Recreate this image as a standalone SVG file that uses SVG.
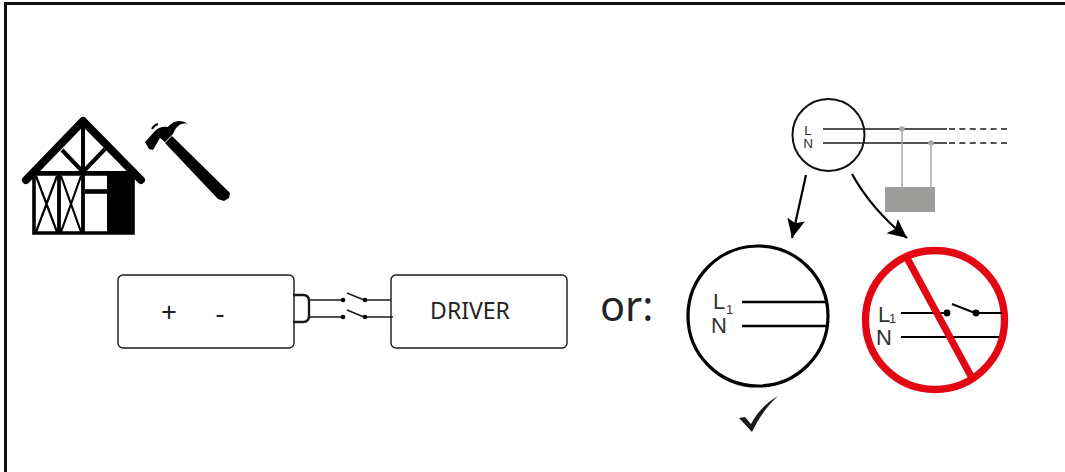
<svg xmlns="http://www.w3.org/2000/svg" width="1065" height="472" viewBox="0 0 1065 472">
<style>
.t{font-family:"Noto Sans","Open Sans",sans-serif;fill:#222}
.a{font-family:"Liberation Sans",Arial,sans-serif;fill:#333}
.box{fill:#fff;stroke:#1a1a1a;stroke-width:1.4}
.w{fill:none;stroke:#1a1a1a;stroke-width:1.6}
.k{fill:none;stroke:#000;stroke-width:2.4}
.g{fill:none;stroke:#a8a8a8;stroke-width:1.5}
</style>
<defs>
<marker id="ah" markerUnits="userSpaceOnUse" markerWidth="22" markerHeight="20" refX="19" refY="9" orient="auto"><path d="M0,0 L19,9 L0,18 L4,9 Z" fill="#000"/></marker>
</defs>
<rect width="1065" height="472" fill="#fff"/>
<path d="M5.5,472 V3.5 H1065" fill="none" stroke="#111" stroke-width="3"/>

<g id="house">
<path d="M34,174 H133 V233 H34 Z" fill="#fff" stroke="#000" stroke-width="3.600"/>
<path d="M26,180 L83,121 L141,180" fill="none" stroke="#000" stroke-width="8" stroke-linecap="round" stroke-linejoin="round"/>
<path d="M83,121 V173 M62,150 L83,172 L105,149 M38,173 H128" fill="none" stroke="#000" stroke-width="4"/>
<rect x="107" y="173" width="26" height="60" fill="#000"/>
<path d="M59,174 V233 M83,174 V233" fill="none" stroke="#000" stroke-width="3.800"/>
<path d="M85,191.500 H107" fill="none" stroke="#000" stroke-width="4.600"/>
<path d="M36,176 L57,232 M57,176 L36,232 M61,176 L81,232 M81,176 L61,232" fill="none" stroke="#000" stroke-width="2.200"/>
</g>
<g id="hammer">
<path d="M172,136 L230,193 L229,198 L224,201 L218,199 L165,143 Z" fill="#000"/>
<path d="M145,142 L155,131 Q160,126 168,127 C172,122 180,118 188,124 C180,122 176,127 173,134 L165,142 L160,138 L153,150 L149,149 Z" fill="#000"/>
<path d="M152,129 Q154,125 158,124" fill="none" stroke="#000" stroke-width="2"/>
</g>

<g id="lamp">
<rect x="118" y="275" width="176" height="73" rx="5" class="box"/>
<text x="169" y="322" class="t" font-size="28" text-anchor="middle">+</text>
<text x="220" y="323" class="t" font-size="28" text-anchor="middle">-</text>
</g>
<g id="driver">
<rect x="391" y="275" width="176" height="73" rx="5" class="box"/>
<text x="470" y="319" class="t" font-size="23" text-anchor="middle">DRIVER</text>
</g>
<g id="connectors">
<path d="M293,295 H303 Q309,295 309,301 V316 Q309,322 303,322 H293" fill="none" stroke="#1a1a1a" stroke-width="2.400"/>
<path class="w" d="M309,300 H343 M365,300 H391 M309,317 H343 M365,317 H393 M347,293 L364,300 M347,310 L364,317"/>
<circle cx="343" cy="300" r="2.300" fill="#000"/><circle cx="365" cy="300" r="2.300" fill="#000"/>
<circle cx="343" cy="317" r="2.300" fill="#000"/><circle cx="365" cy="317" r="2.300" fill="#000"/>
<path d="M806,175 L792,238" fill="none" stroke="#000" stroke-width="2.200" marker-end="url(#ah)"/>
<path d="M852,174 Q872,210 907,238" fill="none" stroke="#000" stroke-width="2.200" marker-end="url(#ah)"/>
</g>
<text x="600" y="321" class="t" font-size="41.500">or:</text>

<g id="meter">
<circle cx="828.500" cy="135" r="36" fill="#fff" stroke="#111" stroke-width="2"/>
<text x="808" y="135" class="a" font-size="13.500" text-anchor="middle">L</text>
<text x="808" y="148" class="a" font-size="13.500" text-anchor="middle">N</text>
<path class="w" d="M823,129 H947 M823,143 H947"/>
<path class="w" d="M949,129 H1007 M949,143 H1007" stroke-dasharray="6 4.400"/>
<path class="g" d="M902,129 V188 M931,143 V188"/>
<circle cx="902" cy="129" r="2.800" fill="#a8a8a8"/><circle cx="931" cy="143" r="2.800" fill="#a8a8a8"/>
<rect x="885" y="187" width="50" height="25" fill="#9d9d9c"/>
</g>

<g id="ok">
<circle cx="758" cy="316" r="70" fill="#fff" stroke="#000" stroke-width="3.200"/>
<text x="713" y="309" class="a" font-size="22">L</text>
<text x="726" y="314" class="a" font-size="13">1</text>
<text x="711" y="333" class="a" font-size="22">N</text>
<path class="k" d="M742,302 H826 M742,326 H827"/>
<path d="M739,418 L745,417 L751,424 C757,412 766,403 778,396 C767,406 758,419 752,432 Z" fill="#1a1a1a"/>
</g>

<g id="no">
<circle cx="935" cy="320" r="69.500" fill="#fff" stroke="#e30613" stroke-width="7.300"/>
<text x="878" y="322" class="a" font-size="22">L</text>
<text x="889" y="323" class="a" font-size="13">1</text>
<text x="876" y="345" class="a" font-size="22">N</text>
<path class="k" style="stroke-width:2.200" d="M901,313 H947 M976,313 H1002 M901,337 H999 M952,304 L975,313"/>
<circle cx="947" cy="313" r="3.400" fill="#000"/><circle cx="976" cy="313" r="3.400" fill="#000"/>
<path d="M907,258 L972,378" fill="none" stroke="#e30613" stroke-width="7"/>
</g>
</svg>
